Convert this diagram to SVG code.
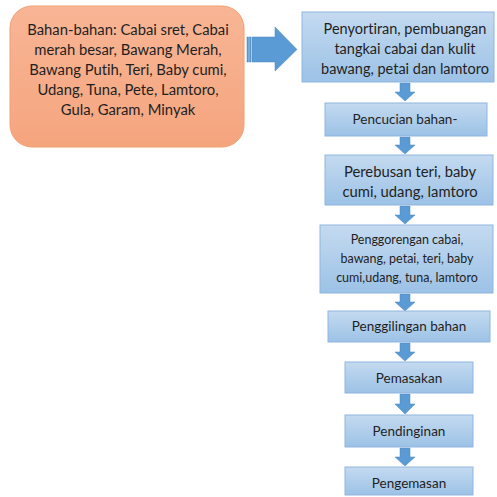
<svg xmlns="http://www.w3.org/2000/svg" width="497" height="497" viewBox="0 0 497 497">
<defs>
<linearGradient id="gb" x1="0" y1="0" x2="0" y2="1"><stop offset="0" stop-color="#c4daf0"/><stop offset="1" stop-color="#9cc2e6"/></linearGradient>
<linearGradient id="go" x1="0" y1="0" x2="0" y2="1"><stop offset="0" stop-color="#f8b595"/><stop offset="1" stop-color="#f5a57e"/></linearGradient>
<style>
.box{fill:url(#gb);stroke:#8fb5e0;stroke-width:1}
.t{font-family:Lato,"Liberation Sans",sans-serif;font-size:13.5px;fill:#1f1f1f;text-anchor:middle;font-variant-ligatures:none;font-feature-settings:"liga" 0}
.arr{fill:#5b9bd5;stroke:#4a86c0;stroke-width:0.5}
</style>
</defs>
<rect width="497" height="497" fill="#fff"/>
<g id="bahan">
<rect x="10" y="6" width="234" height="141" rx="22" fill="url(#go)" stroke="#f0a070" stroke-width="1"/>
<g style="font-size:14.8px">
<text class="t" x="128" y="35" style="font-size:14.8px">Bahan-bahan: Cabai sret, Cabai</text>
<text class="t" x="128" y="55" style="font-size:14.8px">merah besar, Bawang Merah,</text>
<text class="t" x="128" y="75" style="font-size:14.8px">Bawang Putih, Teri, Baby cumi,</text>
<text class="t" x="128" y="95" style="font-size:14.8px">Udang, Tuna, Pete, Lamtoro,</text>
<text class="t" x="128" y="115" style="font-size:14.8px">Gula, Garam, Minyak</text>
</g>
</g>
<g id="connectors">
<rect x="247" y="37" width="1.5" height="25" class="arr"/>
<rect x="249.5" y="37" width="1.5" height="25" class="arr"/>
<path class="arr" d="M252,37 H275 V27 L297,49.5 L275,71 V62 H252 Z"/>
<path class="arr" d="M400,83 h10 v9 h5 l-10,9 l-10,-9 h5 z"/>
<path class="arr" d="M400,137 h10 v8 h5 l-10,9 l-10,-9 h5 z"/>
<path class="arr" d="M400,206 h10 v9 h5 l-10,9 l-10,-9 h5 z"/>
<path class="arr" d="M400,294 h10 v8 h5 l-10,9 l-10,-9 h5 z"/>
<path class="arr" d="M400,343 h10 v9 h5 l-10,9 l-10,-9 h5 z"/>
<path class="arr" d="M400,394 h10 v10 h5 l-10,10 l-10,-10 h5 z"/>
<path class="arr" d="M400,448 h10 v9 h5 l-10,9 l-10,-9 h5 z"/>
</g>
<g id="sortir">
<rect class="box" x="302" y="12" width="192" height="70"/>
<text class="t" x="405" y="34" style="font-size:14.5px">Penyortiran, pembuangan</text>
<text class="t" x="405" y="54" style="font-size:14.5px">tangkai cabai dan kulit</text>
<text class="t" x="405" y="74" style="font-size:14.5px">bawang, petai dan lamtoro</text>
</g>
<g id="cuci">
<rect class="box" x="325" y="103" width="162" height="33"/>
<text class="t" x="405" y="124">Pencucian bahan-</text>
</g>
<g id="rebus">
<rect class="box" x="325" y="155" width="168" height="50"/>
<text class="t" x="410" y="177" style="font-size:14.8px">Perebusan teri, baby</text>
<text class="t" x="410" y="197" style="font-size:14.8px">cumi,  udang, lamtoro</text>
</g>
<g id="goreng">
<rect class="box" x="320" y="225" width="173" height="68"/>
<text class="t" x="407" y="244" style="font-size:12.5px">Penggorengan cabai,</text>
<text class="t" x="407" y="263" style="font-size:12.5px">bawang, petai, teri, baby</text>
<text class="t" x="407" y="282" style="font-size:12.5px">cumi,udang, tuna, lamtoro</text>
</g>
<g id="giling">
<rect class="box" x="328" y="311" width="162" height="31"/>
<text class="t" x="409" y="331">Penggilingan bahan</text>
</g>
<g id="masak">
<rect class="box" x="345" y="362" width="128" height="31"/>
<text class="t" x="409" y="383">Pemasakan</text>
</g>
<g id="dingin">
<rect class="box" x="345" y="415" width="128" height="32"/>
<text class="t" x="409" y="436">Pendinginan</text>
</g>
<g id="kemas">
<rect class="box" x="345" y="467" width="128" height="28"/>
<text class="t" x="409" y="488">Pengemasan</text>
</g>
</svg>
